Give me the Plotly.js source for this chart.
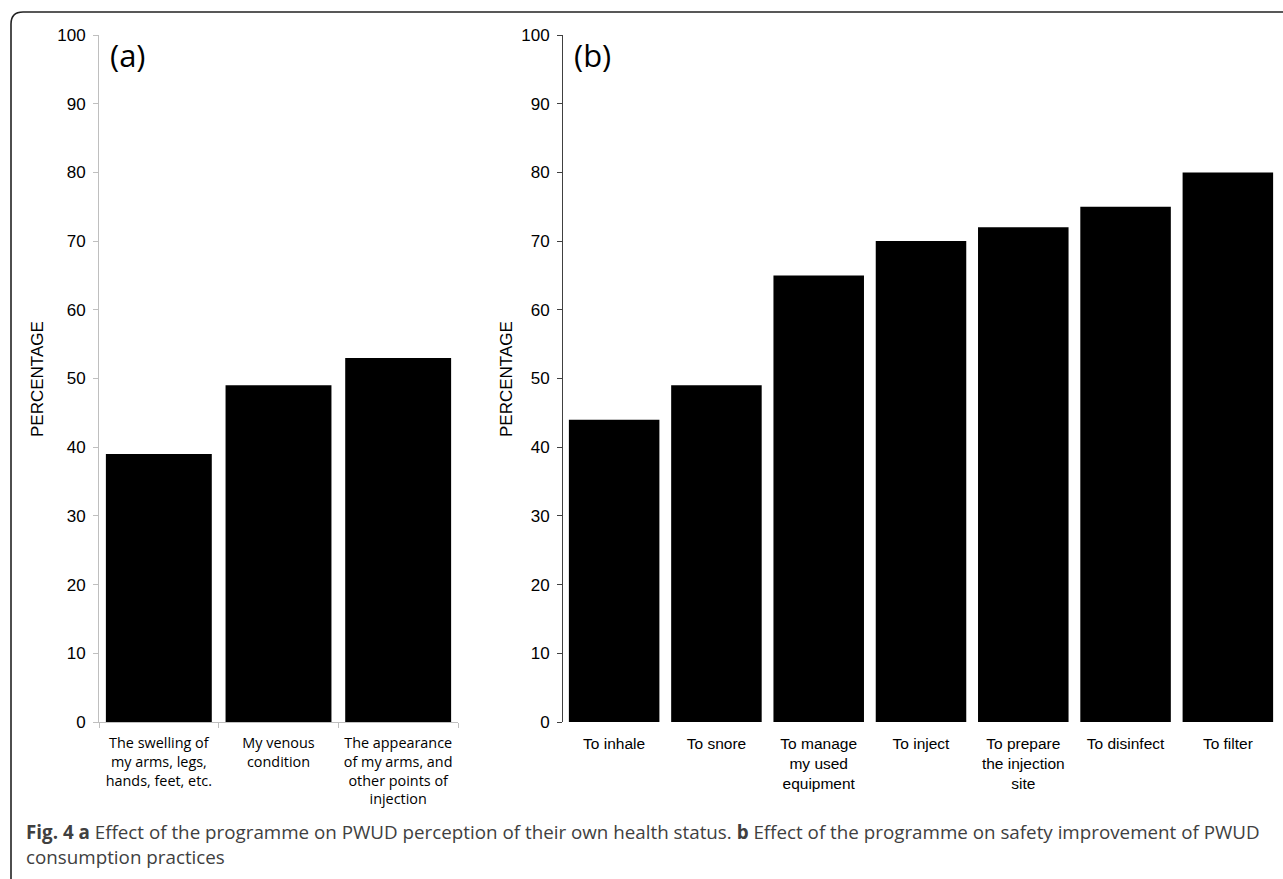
<!DOCTYPE html>
<html>
<head>
<meta charset="utf-8">
<script src="https://cdn.plot.ly/plotly-3.0.1.min.js"></script>
<style>
  html, body { margin: 0; padding: 0; background: #fff; }
  #chart { width: 1283px; height: 879px; }
</style>
</head>
<body>
<div id="chart"></div>
<script>
// Panel (a): perception of own health status
const healthCategories = [
  "The swelling of<br>my arms, legs,<br>hands, feet, etc.",
  "My venous<br>condition",
  "The appearance<br>of my arms, and<br>other points of<br>injection"
];
const healthValues = [39, 49, 53];

// Panel (b): safety of consumption practices
const practiceCategories = [
  "To inhale",
  "To snore",
  "To manage<br>my used<br>equipment",
  "To inject",
  "To prepare<br>the injection<br>site",
  "To disinfect",
  "To filter"
];
const practiceValues = [44, 49, 65, 70, 72, 75, 80];

const yTicks = [0, 10, 20, 30, 40, 50, 60, 70, 80, 90, 100];

const W = 1283, H = 879;
const px = x => x / W;          // pixel -> paper x
const py = y => 1 - y / H;      // pixel -> paper y

const traces = [
  {
    type: "bar",
    x: healthCategories,
    y: healthValues,
    xaxis: "x",
    yaxis: "y",
    marker: { color: "#000000" },
    hoverinfo: "x+y"
  },
  {
    type: "bar",
    x: practiceCategories,
    y: practiceValues,
    xaxis: "x2",
    yaxis: "y2",
    marker: { color: "#000000" },
    hoverinfo: "x+y"
  }
];

const arial = "Liberation Sans, Arial, sans-serif";
const yTickFont = { family: arial, size: 17, color: "#000" };

const layout = {
  width: W,
  height: H,
  margin: { l: 0, r: 0, t: 0, b: 0 },
  paper_bgcolor: "#ffffff",
  plot_bgcolor: "#ffffff",
  showlegend: false,
  bargap: 0.115,
  xaxis: {
    domain: [px(99), px(458)],
    anchor: "y",
    type: "category",
    showgrid: false,
    zeroline: false,
    showline: true,
    linecolor: "#bfbfbf",
    linewidth: 1,
    ticks: "outside",
    tickson: "boundaries",
    ticklen: 5,
    tickcolor: "#bfbfbf",
    ticklabelstandoff: 8,
    tickfont: { family: "Open Sans, sans-serif", size: 14.4, color: "#000" },
    automargin: false,
    fixedrange: true
  },
  yaxis: {
    domain: [py(722), py(35)],
    anchor: "x",
    range: [0, 100],
    tickvals: yTicks,
    showgrid: false,
    zeroline: false,
    showline: true,
    linecolor: "#bfbfbf",
    linewidth: 1,
    ticks: "outside",
    ticklen: 5,
    tickcolor: "#bfbfbf",
    ticklabelstandoff: 4,
    tickfont: yTickFont,
    automargin: false,
    fixedrange: true
  },
  xaxis2: {
    domain: [px(563), px(1279)],
    anchor: "y2",
    type: "category",
    showgrid: false,
    zeroline: false,
    showline: false,
    ticks: "",
    ticklabelstandoff: 10,
    tickfont: { family: arial, size: 15.5, color: "#000" },
    automargin: false,
    fixedrange: true
  },
  yaxis2: {
    domain: [py(722), py(35)],
    anchor: "x2",
    range: [0, 100],
    tickvals: yTicks,
    showgrid: false,
    zeroline: false,
    showline: true,
    linecolor: "#404040",
    linewidth: 1,
    ticks: "outside",
    ticklen: 5,
    tickcolor: "#404040",
    ticklabelstandoff: 4,
    tickfont: yTickFont,
    automargin: false,
    fixedrange: true
  },
  shapes: [
    {
      // rounded frame around the figure
      type: "path",
      xref: "paper",
      yref: "paper",
      path: `M ${px(11)} ${py(H + 5)} L ${px(11)} ${py(24)} Q ${px(11)} ${py(12)} ${px(23)} ${py(12)} L ${px(W + 5)} ${py(12)}`,
      line: { color: "#222", width: 1.6 }
    }
  ],
  annotations: [
    {
      text: "(a)", xref: "paper", yref: "paper",
      x: px(108), y: py(55), xanchor: "left", yanchor: "middle",
      showarrow: false,
      font: { family: "Open Sans, sans-serif", size: 31, color: "#000" }
    },
    {
      text: "(b)", xref: "paper", yref: "paper",
      x: px(572), y: py(55), xanchor: "left", yanchor: "middle",
      showarrow: false,
      font: { family: "Open Sans, sans-serif", size: 31, color: "#000" }
    },
    {
      text: "PERCENTAGE", xref: "paper", yref: "paper",
      x: px(37), y: py(379), xanchor: "center", yanchor: "middle",
      textangle: -90, showarrow: false,
      font: { family: arial, size: 17, color: "#000" }
    },
    {
      text: "PERCENTAGE", xref: "paper", yref: "paper",
      x: px(506), y: py(379), xanchor: "center", yanchor: "middle",
      textangle: -90, showarrow: false,
      font: { family: arial, size: 17, color: "#000" }
    },
    {
      text: "<b>Fig. 4 a</b> Effect of the programme on PWUD perception of their own health status. <b>b</b> Effect of the programme on safety improvement of PWUD",
      xref: "paper", yref: "paper",
      x: px(24), y: py(832), xanchor: "left", yanchor: "middle",
      align: "left", showarrow: false,
      font: { family: "Open Sans, sans-serif", size: 18.8, color: "#404040" }
    },
    {
      text: "consumption practices",
      xref: "paper", yref: "paper",
      x: px(24), y: py(857), xanchor: "left", yanchor: "middle",
      align: "left", showarrow: false,
      font: { family: "Open Sans, sans-serif", size: 18.8, color: "#404040" }
    }
  ]
};

Plotly.newPlot("chart", traces, layout, { displayModeBar: false, staticPlot: true });
</script>
</body>
</html>
